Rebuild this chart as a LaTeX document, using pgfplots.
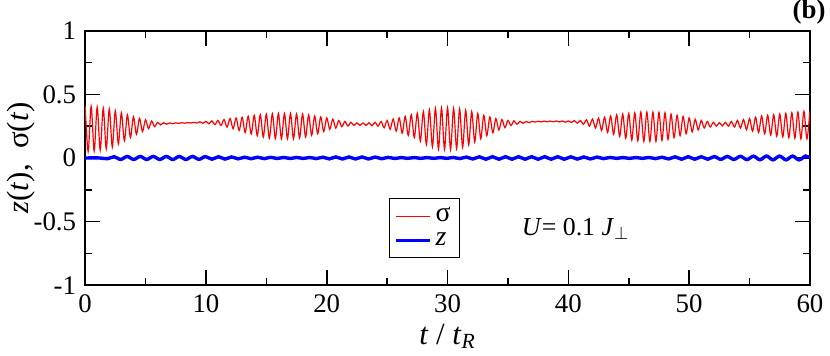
\documentclass[border=0pt]{standalone}
\usepackage{fontspec}
\setmainfont{Liberation Serif}
\usepackage{pgfplots}
\usepackage{pgfplotstable}
\pgfplotsset{compat=1.18}

% sigma(t): successive maxima / minima
\pgfplotstableread{
t s
0 .41
0.25 .05
0.5 .405
0.75 .055
1 .40
1.25 .06
1.5 .392
1.75 .072
2 .385
2.25 .085
2.5 .37
2.75 .11
3 .355
3.25 .135
3.5 .34
3.75 .16
4 .325
4.25 .185
4.5 .312
4.75 .208
5 .30
5.25 .23
5.5 .29
5.75 .246
6 .28
6.25 .26
6.5 .277
6.75 .265
7 .275
7.25 .269
7.5 .276
7.75 .272
8 .277
8.25 .273
8.5 .278
8.75 .274
9 .28
9.25 .274
9.5 .284
9.75 .272
10 .288
10.25 .268
10.5 .292
10.75 .262
11 .295
11.25 .255
11.5 .302
11.75 .242
12 .31
12.25 .23
12.5 .315
12.75 .215
13 .32
13.25 .20
13.5 .328
13.75 .188
14 .335
14.25 .175
14.5 .34
14.75 .164
15 .345
15.25 .155
15.5 .348
15.75 .152
16 .35
16.25 .15
16.5 .35
16.75 .15
17 .35
17.25 .15
17.5 .347
17.75 .157
18 .345
18.25 .165
18.5 .338
18.75 .178
19 .33
19.25 .19
19.5 .323
19.75 .207
20 .315
20.25 .225
20.5 .305
20.75 .235
21 .295
21.25 .245
21.5 .287
21.75 .251
22 .28
22.25 .256
22.5 .276
22.75 .256
23 .275
23.25 .255
23.5 .277
23.75 .253
24 .28
24.25 .25
24.5 .287
24.75 .237
25 .295
25.25 .225
25.5 .306
25.75 .21
26 .315
26.25 .195
26.5 .327
26.75 .177
27 .34
27.25 .16
27.5 .352
27.75 .132
28 .365
28.25 .105
28.5 .377
28.75 .087
29 .39
29.25 .07
29.5 .393
29.75 .067
30 .395
30.25 .065
30.5 .39
30.75 .074
31 .385
31.25 .085
31.5 .375
31.75 .105
32 .365
32.25 .125
32.5 .35
32.75 .15
33 .335
33.25 .175
33.5 .322
33.75 .198
34 .31
34.25 .22
34.5 .302
34.75 .238
35 .295
35.25 .255
35.5 .292
35.75 .264
36 .288
36.25 .272
36.5 .287
36.75 .277
37 .288
37.25 .282
37.5 .289
37.75 .283
38 .29
38.25 .284
38.5 .29
38.75 .284
39 .291
39.25 .283
39.5 .291
39.75 .281
40 .291
40.25 .279
40.5 .293
40.75 .273
41 .295
41.25 .265
41.5 .30
41.75 .25
42 .305
42.25 .235
42.5 .313
42.75 .217
43 .32
43.25 .20
43.5 .33
43.75 .186
44 .34
44.25 .17
44.5 .345
44.75 .155
45 .35
45.25 .14
45.5 .355
45.75 .135
46 .36
46.25 .13
46.5 .36
46.75 .13
47 .36
47.25 .13
47.5 .358
47.75 .138
48 .355
48.25 .145
48.5 .344
48.75 .16
49 .335
49.25 .175
49.5 .326
49.75 .19
50 .315
50.25 .205
50.5 .304
50.75 .22
51 .295
51.25 .235
51.5 .287
51.75 .243
52 .28
52.25 .25
52.5 .278
52.75 .252
53 .28
53.25 .25
53.5 .287
53.75 .243
54 .295
54.25 .235
54.5 .302
54.75 .222
55 .31
55.25 .21
55.5 .32
55.75 .20
56 .33
56.25 .19
56.5 .336
56.75 .18
57 .34
57.25 .17
57.5 .345
57.75 .165
58 .35
58.25 .16
58.5 .355
58.75 .155
59 .36
59.25 .15
59.5 .366
59.75 .15
60 .37
}\sigmadata

% z(t)
\pgfplotstableread{
t z
0 0
1.2 0
1.86 -0.006
2.40 0.010
2.94 -0.012
3.48 0.012
4.02 -0.012
4.56 0.012
5.10 -0.012
5.64 0.012
6.18 -0.012
6.72 0.012
7.26 -0.012
7.80 0.012
8.34 -0.012
8.88 0.012
9.42 -0.011
9.96 0.011
10.50 -0.010
11.04 0.010
11.58 -0.009
12.12 0.008
12.66 -0.007
13.20 0.006
13.74 -0.006
14.28 0.006
14.82 -0.005
15.36 0.005
15.90 -0.004
16.44 0.004
16.98 -0.004
17.52 0.004
18.06 -0.004
18.60 0.004
19.14 -0.005
19.68 0.006
20.22 -0.007
20.76 0.008
21.30 -0.008
21.84 0.008
22.38 -0.008
22.92 0.008
23.46 -0.008
24.00 0.007
24.54 -0.006
25.08 0.005
25.62 -0.004
26.16 0.003
26.70 -0.003
27.24 0.003
27.78 -0.003
28.32 0.003
28.86 -0.003
29.40 0.003
29.94 -0.003
30.48 0.004
31.02 -0.005
31.56 0.007
32.10 -0.008
32.64 0.009
33.18 -0.010
33.72 0.010
34.26 -0.010
34.80 0.010
35.34 -0.010
35.88 0.010
36.42 -0.010
36.96 0.010
37.50 -0.010
38.04 0.010
38.58 -0.010
39.12 0.010
39.66 -0.010
40.20 0.009
40.74 -0.009
41.28 0.008
41.82 -0.008
42.36 0.007
42.90 -0.005
43.44 0.004
43.98 -0.003
44.52 0.003
45.06 -0.003
45.60 0.003
46.14 -0.003
46.68 0.004
47.22 -0.005
47.76 0.006
48.30 -0.008
48.84 0.009
49.38 -0.010
49.92 0.010
50.46 -0.010
51.00 0.010
51.54 -0.010
52.08 0.011
52.62 -0.011
53.16 0.012
53.70 -0.012
54.24 0.013
54.78 -0.013
55.32 0.014
55.86 -0.014
56.40 0.015
56.94 -0.015
57.48 0.015
58.02 -0.015
58.56 0.015
59.10 -0.015
59.64 0.015
60.00 0.0
}\zdata

\begin{document}
\begin{tikzpicture}
\begin{axis}[
    name=ax,
    width=364.5pt, height=128pt, scale only axis,
    xmin=0, xmax=60, ymin=-1, ymax=1,
    xtick={0,10,...,60},
    ytick={-1,-0.5,0,0.5,1},
    minor x tick num=1, minor y tick num=1,
    tick align=inside,
    major tick length=7.5pt, minor tick length=3.5pt,
    every tick/.style={black, line width=0.8pt},
    axis line style={line width=1pt},
    /pgf/number format/assume math mode=true,
    tick label style={font=\fontsize{13.5}{13.5}\selectfont},
    xticklabel style={yshift=-1pt},
    yticklabel style={xshift=-1pt},
    xlabel={\textit{t} / \textit{t}\textsubscript{\textit{R}}},
    ylabel={\textit{z}(\textit{t}),\ \ σ(\textit{t})},
    xlabel style={font=\fontsize{15.5}{15.5}\selectfont, at={(axis description cs:0.5,-0.2)}, anchor=center},
    ylabel style={font=\fontsize{15.5}{15.5}\selectfont, at={(axis description cs:-0.089,0.5)}, anchor=center},
    legend style={at={(axis cs:28.1,-0.55)}, anchor=center, draw=black,
        font=\fontsize{14}{14}\selectfont, inner sep=2.5pt, row sep=0pt,
        cells={anchor=west}},
]
\addplot[red, line width=0.6pt, smooth] table[x=t, y=s] {\sigmadata};
\addlegendentry{σ}
\addplot[blue, line width=1.7pt, smooth] table[x=t, y=z] {\zdata};
\addlegendentry{\textit{z}}

\node[font=\fontsize{13}{13}\selectfont] at (axis cs:40.6,-0.555) {\textit{U}= 0.1 \textit{J}$_\perp$};
\end{axis}
\node[anchor=south east, inner sep=0pt, font=\bfseries\fontsize{13.5}{13.5}\selectfont]
    at ([xshift=8pt, yshift=3pt]ax.north east) {(b)};
\end{tikzpicture}
\end{document}
